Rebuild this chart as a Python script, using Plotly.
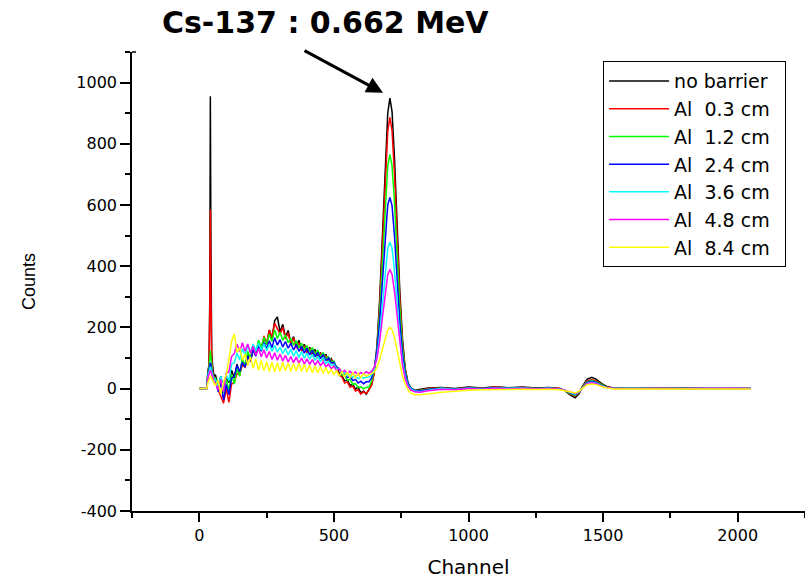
import plotly.graph_objects as go

# Channels (shared x positions for all spectra)
CH_SPIKE = [0, 28, 32, 36, 39, 41, 43, 46, 50, 55]
CH_COMPTON = [60, 70, 80, 90, 100, 110, 120, 130, 140, 150,
              160, 170, 180, 190, 200, 210, 220, 230, 240, 250,
              260, 270, 280, 290, 300, 310, 320, 330, 340, 350,
              360, 370, 380, 390, 400, 410, 420, 430, 440, 450,
              460, 470, 480, 490, 500, 510, 520, 530, 540, 550,
              560, 570, 580, 590, 600, 610, 620]
CH_PEAK = [630, 640, 650, 660, 670, 680, 690, 700, 708, 716, 725, 735, 745, 755, 765, 775, 785, 800]
CH_TAIL = [820, 850, 900, 950, 1000, 1050, 1100, 1150, 1200, 1250, 1300, 1340, 1360, 1380, 1396,
           1410, 1425, 1440, 1458, 1475, 1495, 1515, 1540, 1600, 1700, 1800, 1900, 2000, 2048]
CHANNELS = CH_SPIKE + CH_COMPTON + CH_PEAK + CH_TAIL

NAMES = ["no barrier\u00a0\u00a0", "Al\u00a0\u00a00.3 cm", "Al\u00a0\u00a01.2 cm", "Al\u00a0\u00a02.4 cm",
         "Al\u00a0\u00a03.6 cm", "Al\u00a0\u00a04.8 cm", "Al\u00a0\u00a08.4 cm"]
COLORS = ["#000000", "#ff0000", "#00ff00", "#0000ff", "#00ffff", "#ff00ff", "#ffff00"]

no_barrier = (
    [0, 0, 60, 75, 300, 955, 500, 120, 70, 40]
    + [45, 10, 40, -5, 35, 20, 60, 35, 80, 50,
       95, 70, 110, 100, 130, 110, 150, 125, 165, 145,
       190, 165, 222, 234, 185, 210, 168, 190, 150, 170,
       138, 158, 125, 145, 118, 135, 110, 128, 104, 118,
       96, 112, 88, 98, 80, 72, 50, 42, 25, 28,
       10, 14, -2, 5, -14, -8, -18]
    + [-5, 12, 55, 140, 290, 500, 730, 900, 949, 905, 755, 530, 315, 160, 65, 20, 0, -5]
    + [-3, 2, 4, 0, 5, 2, 6, 3, 5, 2, 4, 0, -8, -22, -30, -18, 10, 30, 37, 30, 16, 6, 2, 3, 1, 2, 0, 1, 0]
)
al_03 = (
    [0, 0, 55, 70, 250, 585, 320, 100, 55, 30]
    + [30, -5, -25, -48, 0, -45, 15, 20, 50, 45,
       78, 70, 108, 88, 128, 108, 148, 128, 172, 148,
       192, 168, 214, 196, 178, 200, 162, 182, 144, 166,
       132, 150, 122, 140, 114, 132, 106, 122, 100, 116,
       92, 108, 84, 96, 76, 68, 44, 38, 18, 22,
       4, 8, -8, -4, -18, -10, -16]
    + [-5, 12, 50, 130, 270, 465, 680, 840, 886, 842, 702, 492, 292, 148, 60, 18, 0, -6]
    + [-5, 0, 3, -1, 4, 1, 5, 2, 4, 1, 3, 0, -7, -19, -25, -15, 8, 25, 30, 25, 13, 5, 2, 2, 1, 1, 0, 1, 0]
)
al_12 = (
    [0, 0, 50, 70, 100, 125, 105, 70, 45, 30]
    + [35, 0, 35, -15, 30, -5, 45, 15, 68, 40,
       98, 72, 122, 98, 142, 118, 158, 134, 168, 144,
       178, 154, 192, 164, 184, 158, 176, 150, 164, 142,
       156, 134, 148, 126, 140, 120, 134, 112, 126, 104,
       118, 98, 104, 88, 90, 68, 64, 44, 44, 28,
       30, 14, 16, 4, 6, 0, 4]
    + [5, 25, 60, 128, 245, 412, 592, 728, 765, 728, 610, 430, 258, 133, 58, 20, 3, -5]
    + [-6, -2, 2, -2, 3, 0, 4, 1, 3, 0, 2, -1, -7, -17, -22, -13, 7, 22, 27, 22, 12, 4, 1, 2, 0, 1, -1, 0, 0]
)
al_24 = (
    [0, 0, 45, 60, 75, 85, 78, 60, 40, 25]
    + [25, -10, 18, -38, 14, -20, 34, 40, 76, 55,
       86, 70, 106, 90, 126, 106, 140, 122, 150, 132,
       156, 134, 166, 142, 160, 136, 154, 132, 148, 126,
       144, 122, 138, 116, 132, 110, 126, 104, 118, 98,
       112, 92, 100, 84, 86, 68, 66, 48, 50, 36,
       40, 26, 30, 18, 24, 16, 22]
    + [22, 35, 65, 125, 218, 345, 490, 600, 625, 598, 500, 355, 215, 112, 50, 18, 2, -6]
    + [-8, -3, 1, -2, 2, 0, 3, 1, 2, 0, 2, -1, -6, -15, -20, -12, 6, 20, 24, 20, 10, 4, 1, 1, 0, 1, -1, 0, 0]
)
al_36 = (
    [0, 0, 40, 55, 65, 72, 66, 55, 38, 25]
    + [30, 5, 40, 0, 45, 25, 80, 85, 116, 94,
       130, 110, 140, 120, 146, 124, 148, 126, 146, 124,
       144, 122, 141, 119, 136, 114, 132, 110, 128, 106,
       124, 102, 120, 99, 116, 96, 112, 92, 106, 88,
       102, 82, 90, 76, 80, 64, 64, 50, 52, 42,
       46, 36, 42, 32, 39, 34, 37]
    + [38, 46, 65, 105, 175, 270, 378, 458, 478, 460, 385, 275, 168, 88, 38, 12, 0, -8]
    + [-10, -5, 0, -3, 1, -1, 2, 0, 2, -1, 1, -2, -6, -14, -18, -11, 5, 18, 21, 18, 9, 3, 0, 1, 0, 0, -1, 0, 0]
)
al_48 = (
    [0, 0, 35, 45, 55, 60, 56, 48, 35, 22]
    + [20, -5, 30, -10, 50, 55, 105, 115, 146, 120,
       150, 122, 146, 116, 138, 110, 131, 104, 126, 100,
       121, 95, 117, 93, 113, 90, 109, 87, 105, 85,
       103, 83, 100, 80, 97, 79, 95, 77, 91, 75,
       87, 71, 80, 65, 73, 59, 65, 52, 60, 49,
       57, 47, 55, 45, 53, 47, 55]
    + [50, 56, 70, 100, 155, 230, 312, 372, 389, 373, 318, 230, 142, 75, 32, 8, -4, -10]
    + [-12, -7, -2, -4, 0, -2, 1, -1, 1, -1, 0, -2, -6, -13, -16, -10, 4, 16, 19, 16, 8, 3, 0, 0, -1, 0, -1, 0, 0]
)
al_84 = (
    [0, 0, 20, 30, 36, 40, 38, 33, 25, 15]
    + [10, 28, -18, 22, 45, 95, 155, 178, 118, 134,
       92, 114, 76, 104, 66, 96, 60, 92, 58, 88,
       56, 86, 54, 84, 56, 86, 58, 84, 56, 82,
       58, 84, 56, 80, 54, 76, 52, 74, 51, 72,
       50, 69, 48, 64, 46, 59, 41, 56, 38, 54,
       36, 52, 36, 50, 36, 49, 40]
    + [45, 48, 55, 70, 95, 128, 165, 192, 200, 192, 168, 125, 78, 40, 14, -4, -14, -20]
    + [-20, -18, -12, -8, -5, -4, -3, -3, -2, -3, -2, -4, -7, -12, -14, -9, 3, 13, 15, 13, 7, 2, -1, -1, -1, -1, -2, -1, -1]
)
SERIES = [no_barrier, al_03, al_12, al_24, al_36, al_48, al_84]

Y_TICKS = [-400, -200, 0, 200, 400, 600, 800, 1000]
X_TICKS = [0, 500, 1000, 1500, 2000]

fig = go.Figure()
for i, (name, color, vals) in enumerate(zip(NAMES, COLORS, SERIES)):
    assert len(vals) == len(CHANNELS), (name, len(vals))
    fig.add_trace(go.Scatter(
        x=CHANNELS, y=vals, mode="lines", name=name,
        line=dict(color=color, width=1.5), legendgroup=f"g{i}",
    ))

axis_common = dict(
    showline=True, linecolor="black", linewidth=1.5,
    ticks="outside", tickcolor="black", tickwidth=1.5,
    showgrid=False, zeroline=False, mirror=False, automargin=False,
    tickfont=dict(family="DejaVu Sans", size=16, color="black"),
)

fig.update_layout(
    width=805, height=582,
    margin=dict(l=132, r=0, t=52, b=71),
    paper_bgcolor="white", plot_bgcolor="white",
    showlegend=True,
    legend=dict(
        x=0.700, y=0.980, xanchor="left", yanchor="top",
        bordercolor="black", borderwidth=1, bgcolor="white",
        font=dict(family="DejaVu Sans", size=19, color="black"),
        itemwidth=60, tracegroupgap=0,
    ),
    xaxis=dict(
        range=[-250, 2250], tickvals=X_TICKS, ticktext=[str(v) for v in X_TICKS],
        ticklen=9,
        minor=dict(dtick=250, tick0=-250, ticklen=5, ticks="outside", tickcolor="black", tickwidth=1.5),
        title=dict(text="Channel", font=dict(family="DejaVu Sans", size=20, color="black"), standoff=16),
        **axis_common,
    ),
    yaxis=dict(
        range=[-400, 1100], tickvals=Y_TICKS, ticktext=[str(v) for v in Y_TICKS],
        ticklen=10,
        minor=dict(dtick=100, tick0=0, ticklen=5, ticks="outside", tickcolor="black", tickwidth=1.5),
        title=dict(text="Counts", font=dict(family="Liberation Sans", size=18, color="black"), standoff=36),
        **axis_common,
    ),
    shapes=[
        dict(type="line", xref="paper", yref="paper", x0=0, x1=0.006, y0=1, y1=1,
             line=dict(color="black", width=1.5)),
    ],
    annotations=[
        dict(text="Cs-137 : 0.662 MeV", xref="paper", yref="paper", x=0.287, y=1.065,
             xanchor="center", yanchor="middle", showarrow=False,
             font=dict(family="DejaVu Sans", size=30, color="black", weight="bold")),
        dict(text="", xref="paper", yref="paper", x=0.373, y=0.911,
             ax=-80, ay=-43, showarrow=True, arrowhead=2, arrowsize=1.1,
             arrowwidth=3, arrowcolor="black"),
    ],
)

fig.write_html(
    "out.html",
    config={"displayModeBar": False},
    post_script="document.body.style.margin='0';document.body.style.overflow='hidden';",
)
